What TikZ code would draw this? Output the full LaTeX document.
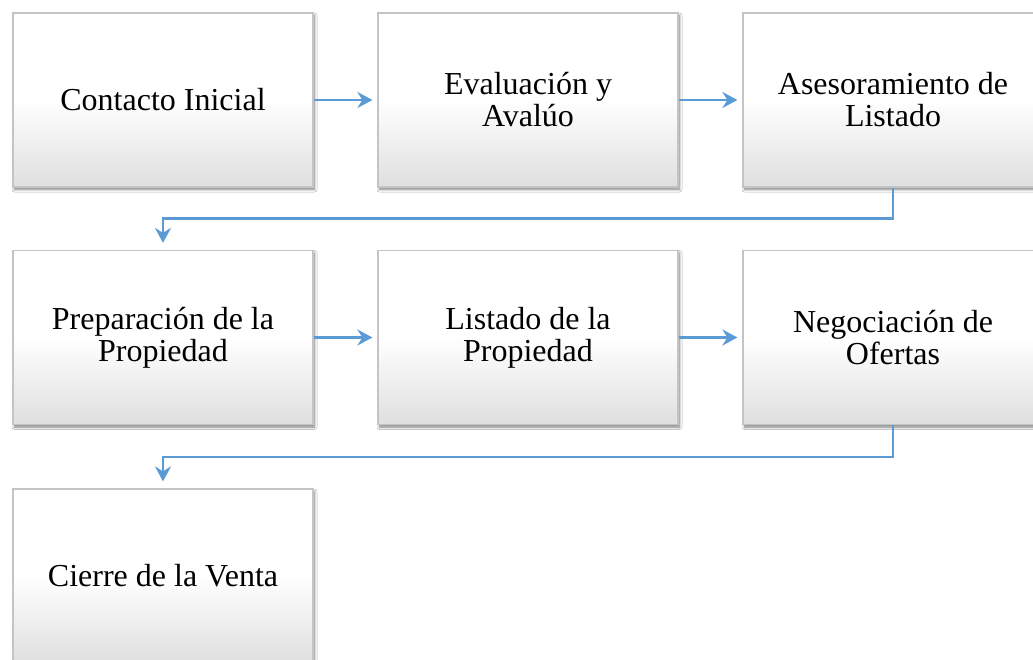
\documentclass[tikz,border=0pt]{standalone}
\usepackage{fontspec}
\setmainfont{Liberation Serif}
\usetikzlibrary{arrows.meta,shadows.blur}
\definecolor{arrowblue}{HTML}{5B9BD5}
\definecolor{boxedge}{HTML}{C4C4C4}
\definecolor{boxbottom}{HTML}{DFDFDF}
\tikzset{
  stepbox/.style={rectangle, minimum width=300pt, minimum height=174pt,
    inner sep=0pt, align=center, draw=boxedge, line width=1.2pt,
    top color=white, bottom color=boxbottom, middle color=white,
    blur shadow={shadow xshift=1.5pt, shadow yshift=-2.5pt, shadow blur radius=2.5pt, shadow blur steps=6, shadow opacity=50},
    font=\fontsize{32}{32}\selectfont},
  conn/.style={draw=arrowblue, line width=2.5pt,
    -{Stealth[length=15pt,width=16pt,inset=5pt]}},
}
\begin{document}
\begin{tikzpicture}[x=1pt,y=-1pt]
\clip (0,0) rectangle (1033,660);
\fill[white] (0,0) rectangle (1033,660);
\node[stepbox] (a) at (163,100) {Contacto Inicial};
\node[stepbox] (b) at (528,100) {Evaluación y\\Avalúo};
\node[stepbox] (c) at (893,100) {Asesoramiento de\\Listado};
\node[stepbox] (d) at (163,337.5) {Preparación de la\\Propiedad};
\node[stepbox] (e) at (528,337.5) {Listado de la\\Propiedad};
\node[stepbox] (f) at (893,337.5) {Negociación de\\Ofertas};
\node[stepbox] (g) at (163,576) {Cierre de la Venta};
\draw[conn, shorten >=5pt] (a.east) -- (b.west);
\draw[conn, shorten >=5pt] (b.east) -- (c.west);
\draw[conn, shorten >=7pt] (c.south) -- ++(0,31) -| (d.north);
\draw[conn, shorten >=5pt] (d.east) -- (e.west);
\draw[conn, shorten >=5pt] (e.east) -- (f.west);
\draw[conn, shorten >=7pt] (f.south) -- ++(0,32) -| (g.north);
\end{tikzpicture}
\end{document}
